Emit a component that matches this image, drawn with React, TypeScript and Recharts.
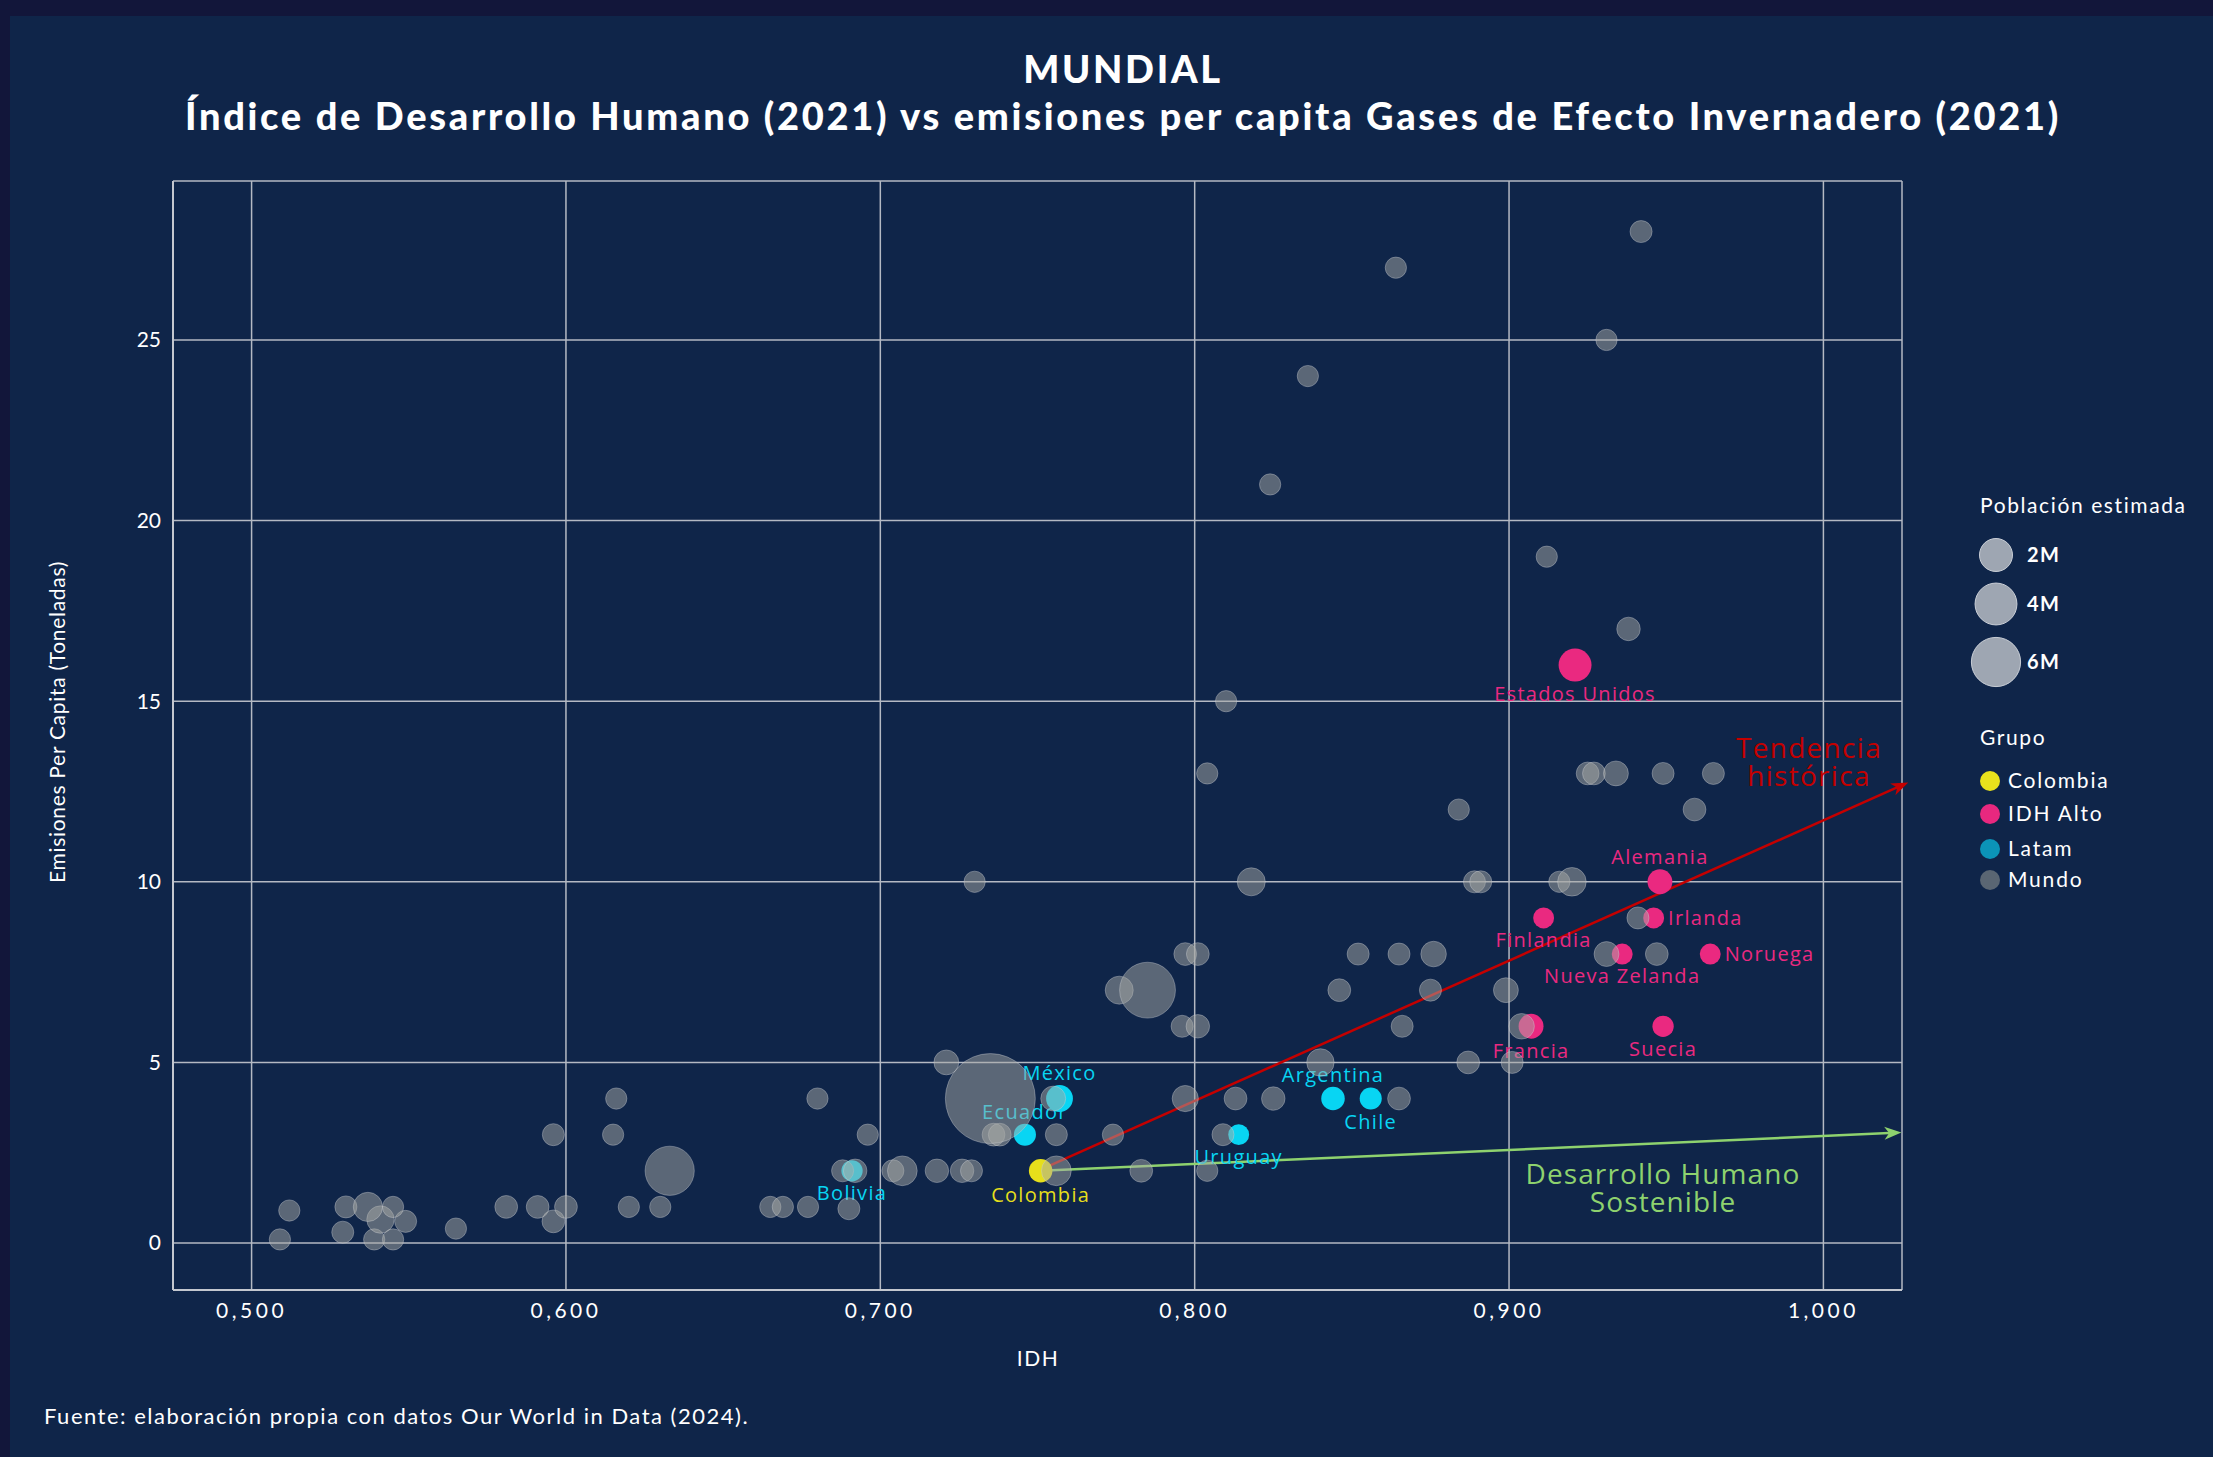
import React from "react";
import { ScatterChart, Scatter, XAxis, YAxis, ZAxis, CartesianGrid, ReferenceLine } from "recharts";

const W = 2213;
const H = 1457;
const FONT = "Lato, 'Noto Sans', sans-serif";
const LABEL_FONT = "'Open Sans', Lato, sans-serif";

const idhTicks = [0.5, 0.6, 0.7, 0.8, 0.9, 1.0];
const emisTicks = [0, 5, 10, 15, 20, 25];

// [nombre, IDH, emisiones per capita (t), poblacion (escala de la leyenda, M)]
const colombiaPts: [string, number, number, number][] = [["Colombia", 0.751, 2, 0.4]];

const idhAltoPts: [string, number, number, number][] = [
  ["Estados Unidos", 0.921, 16, 2.0],
  ["Alemania", 0.948, 10, 0.6],
  ["Finlandia", 0.911, 9, 0.05],
  ["Irlanda", 0.946, 9, 0.05],
  ["Nueva Zelanda", 0.936, 8, 0.05],
  ["Noruega", 0.964, 8, 0.05],
  ["Francia", 0.907, 6, 0.6],
  ["Suecia", 0.949, 6, 0.1],
];

const latamPts: [string, number, number, number][] = [
  ["México", 0.757, 4, 0.9],
  ["Ecuador", 0.746, 3, 0.2],
  ["Bolivia", 0.691, 2, 0.1],
  ["Argentina", 0.844, 4, 0.4],
  ["Chile", 0.856, 4, 0.2],
  ["Uruguay", 0.814, 3, 0.05],
];

// [IDH, emisiones, poblacion]
const mundoPts: [number, number, number][] = [
  [0.509, 0.1, 0.1], [0.529, 0.3, 0.2], [0.539, 0.1, 0.1], [0.545, 0.1, 0.1],
  [0.541, 0.65, 1.0], [0.549, 0.6, 0.2], [0.565, 0.4, 0.1], [0.596, 0.6, 0.3],
  [0.512, 0.9, 0.1], [0.530, 1, 0.2], [0.537, 1, 1.3], [0.545, 1, 0.1],
  [0.581, 1, 0.3], [0.591, 1, 0.3], [0.600, 1, 0.3], [0.620, 1, 0.1],
  [0.630, 1, 0.1], [0.665, 1, 0.1], [0.669, 1, 0.1], [0.677, 1, 0.1], [0.690, 0.95, 0.2],
  [0.633, 2, 6], [0.688, 2, 0.2], [0.692, 2, 0.4], [0.704, 2, 0.2], [0.707, 2, 1.4],
  [0.718, 2, 0.4], [0.726, 2, 0.4], [0.729, 2, 0.2], [0.756, 2, 1.4], [0.783, 2, 0.3], [0.804, 2, 0.1],
  [0.596, 3, 0.2], [0.615, 3, 0.1], [0.696, 3, 0.1], [0.736, 3, 0.3], [0.738, 3, 0.3],
  [0.756, 3, 0.2], [0.774, 3, 0.1], [0.809, 3, 0.2],
  [0.616, 4, 0.1], [0.680, 4, 0.1], [0.735, 4, 23], [0.755, 4, 0.6], [0.797, 4, 0.8],
  [0.813, 4, 0.3], [0.825, 4, 0.4], [0.865, 4, 0.3],
  [0.721, 5, 0.6], [0.840, 5, 1.0], [0.887, 5, 0.3], [0.901, 5, 0.2],
  [0.796, 6, 0.2], [0.801, 6, 0.4], [0.866, 6, 0.2], [0.904, 6, 0.7],
  [0.776, 7, 1.1], [0.785, 7, 8.1], [0.846, 7, 0.3], [0.875, 7, 0.2], [0.899, 7, 0.6],
  [0.797, 8, 0.3], [0.801, 8, 0.3], [0.852, 8, 0.2], [0.865, 8, 0.2], [0.876, 8, 0.7],
  [0.931, 8, 0.6], [0.947, 8, 0.3],
  [0.941, 9, 0.2],
  [0.730, 10, 0.1], [0.818, 10, 1.1], [0.889, 10, 0.2], [0.891, 10, 0.2], [0.916, 10, 0.1], [0.920, 10, 1.2],
  [0.884, 12, 0.1], [0.959, 12, 0.3],
  [0.804, 13, 0.1], [0.925, 13, 0.3], [0.927, 13, 0.3], [0.934, 13, 0.6], [0.949, 13, 0.2], [0.965, 13, 0.2],
  [0.810, 15, 0.1], [0.938, 17, 0.4], [0.912, 19, 0.1], [0.824, 21, 0.1],
  [0.836, 24, 0.1], [0.931, 25, 0.1], [0.864, 27, 0.1], [0.942, 28, 0.2],
];

// flechas: [inicio, fin] en coordenadas (IDH, emisiones)
const tendenciaSeg = [{ x: 0.751, y: 2.03 }, { x: 1.027, y: 12.75 }];
const sostenibleSeg = [{ x: 0.751, y: 2.0 }, { x: 1.0248, y: 3.06 }];

const sizeLegend = [2, 4, 6];

const COLORS = {
  colombia: "#e6df1b",
  idhAlto: "#ea2980",
  latam: "#08d5f3",
  mundo: "#a7aaa6",
  red: "#c40000",
  green: "#8ed26e",
  grid: "#b4b9c3",
};

const groupLegend = [
  { label: "Colombia", color: "#e8e21c" },
  { label: "IDH Alto", color: "#e8287f" },
  { label: "Latam", color: "#0b94b8" },
  { label: "Mundo", color: "#5a6673" },
];

const labelPlace: Record<string, "above" | "below" | "right"> = {
  "Estados Unidos": "below",
  Alemania: "above",
  Finlandia: "below",
  Irlanda: "right",
  "Nueva Zelanda": "below",
  Noruega: "right",
  Francia: "below",
  Suecia: "below",
  México: "above",
  Ecuador: "above",
  Bolivia: "below",
  Argentina: "above",
  Chile: "below",
  Uruguay: "below",
  Colombia: "below",
};

const toNamed = (arr: [string, number, number, number][]) =>
  arr.map(([name, idh, emis, pob]) => ({ name, idh, emis, pob }));

const colombiaData = toNamed(colombiaPts);
const idhAltoData = toNamed(idhAltoPts);
const latamData = toNamed(latamPts);
const mundoData = mundoPts.map(([idh, emis, pob]) => ({ idh, emis, pob }));

const radiusOf = (p: any) => {
  if (typeof p.size === "number" && p.size > 0) return Math.sqrt(p.size / Math.PI);
  return (p.width || 20) / 2;
};

const labeledDot = (color: string) => (p: any) => {
  const r = radiusOf(p);
  const name = p.payload?.name ?? "";
  const place = labelPlace[name] || "below";
  let tx = p.cx;
  let ty = p.cy + r + 19;
  let anchor: "middle" | "start" = "middle";
  if (place === "above") ty = p.cy - r - 5;
  if (place === "right") {
    tx = p.cx + r + 4;
    ty = p.cy + 7;
    anchor = "start";
  }
  return (
    <g>
      <circle cx={p.cx} cy={p.cy} r={r} fill={color} />
      <text
        x={tx}
        y={ty}
        textAnchor={anchor}
        fill={color}
        fontSize={20}
        fontFamily={LABEL_FONT}
        letterSpacing={1.3}
      >
        {name}
      </text>
    </g>
  );
};

const mundoDot = (p: any) => (
  <circle
    cx={p.cx}
    cy={p.cy}
    r={radiusOf(p)}
    fill={COLORS.mundo}
    fillOpacity={0.5}
    stroke="#d4d8dc"
    strokeOpacity={0.35}
    strokeWidth={1}
  />
);

const arrowShape = (color: string, width: number) => (p: any) => {
  const { x1, y1, x2, y2 } = p;
  const a = Math.atan2(y2 - y1, x2 - x1);
  const c = Math.cos(a);
  const s = Math.sin(a);
  const L = 17;
  const hw = 6.5;
  const bx = x2 - L * c;
  const by = y2 - L * s;
  const nx = x2 - 0.72 * L * c;
  const ny = y2 - 0.72 * L * s;
  const d = `M${x2},${y2} L${bx - s * hw},${by + c * hw} L${nx},${ny} L${bx + s * hw},${by - c * hw} Z`;
  return (
    <g>
      <line x1={x1} y1={y1} x2={nx} y2={ny} stroke={color} strokeWidth={width} />
      <path d={d} fill={color} />
    </g>
  );
};

const fmtIdh = (v: number) => v.toFixed(3).replace(".", ",");
const legendR = (p: number) => Math.sqrt((330 + 262 * p) / Math.PI);

export default function App() {
  return (
    <div
      style={{
        position: "absolute",
        left: 0,
        top: 0,
        width: W,
        height: H,
        background: "#12163a",
        overflow: "hidden",
        fontFamily: FONT,
      }}
    >
      <div style={{ position: "absolute", left: 10, top: 16, right: 0, bottom: 0, background: "#0f2549" }} />
      <div style={{ position: "absolute", left: 0, top: 0 }}>
        <ScatterChart width={W} height={H} margin={{ top: 181, right: 311, bottom: 127, left: 113 }}>
          <CartesianGrid stroke={COLORS.grid} strokeWidth={1.5} />
          <XAxis
            type="number"
            dataKey="idh"
            domain={[0.475, 1.025]}
            ticks={idhTicks}
            allowDataOverflow
            height={40}
            tickLine={false}
            tickMargin={7}
            tickFormatter={fmtIdh}
            axisLine={{ stroke: "#c3c7cf", strokeWidth: 2 }}
            tick={{ fill: "#ffffff", fontSize: 21, fontFamily: FONT, letterSpacing: 3.5 }}
          />
          <YAxis
            type="number"
            dataKey="emis"
            domain={[-1.3, 29.4]}
            ticks={emisTicks}
            allowDataOverflow
            width={60}
            tickLine={false}
            tickMargin={6}
            axisLine={{ stroke: "#c3c7cf", strokeWidth: 2 }}
            tick={{ fill: "#ffffff", fontSize: 21, fontFamily: FONT }}
          />
          <ZAxis type="number" dataKey="pob" domain={[0, 40]} range={[330, 10810]} />
          <Scatter name="Colombia" data={colombiaData} shape={labeledDot(COLORS.colombia)} isAnimationActive={false} />
          <Scatter name="IDH Alto" data={idhAltoData} shape={labeledDot(COLORS.idhAlto)} isAnimationActive={false} />
          <Scatter name="Latam" data={latamData} shape={labeledDot(COLORS.latam)} isAnimationActive={false} />
          <Scatter name="Mundo" data={mundoData} shape={mundoDot} isAnimationActive={false} />
          <ReferenceLine segment={tendenciaSeg} ifOverflow="visible" shape={arrowShape(COLORS.red, 2.5)} />
          <ReferenceLine segment={sostenibleSeg} ifOverflow="visible" shape={arrowShape(COLORS.green, 2.5)} />
        </ScatterChart>
      </div>
      <svg
        width={W}
        height={H}
        style={{ position: "absolute", left: 0, top: 0, pointerEvents: "none" }}
        fontFamily={FONT}
      >
        <text x={1123} y={83} textAnchor="middle" fill="#fff" fontSize={38} fontWeight={900} letterSpacing={2.7}>
          MUNDIAL
        </text>
        <text x={1123} y={130} textAnchor="middle" fill="#fff" fontSize={38} fontWeight={900} letterSpacing={2.7}>
          Índice de Desarrollo Humano (2021) vs emisiones per capita Gases de Efecto Invernadero (2021)
        </text>
        <text
          transform="translate(65,722) rotate(-90)"
          textAnchor="middle"
          fill="#fff"
          fontSize={21}
          letterSpacing={0.7}
        >
          Emisiones Per Capita (Toneladas)
        </text>
        <text x={1038} y={1366} textAnchor="middle" fill="#fff" fontSize={21} letterSpacing={1.5}>
          IDH
        </text>
        <text x={44} y={1424} fill="#fff" fontSize={22} letterSpacing={1.5}>
          Fuente: elaboración propia con datos Our World in Data (2024).
        </text>

        <text textAnchor="middle" fill={COLORS.red} fontSize={28} fontFamily={LABEL_FONT} letterSpacing={1.3}>
          <tspan x={1809} y={758}>Tendencia</tspan>
          <tspan x={1809} y={786}>histórica</tspan>
        </text>
        <text textAnchor="middle" fill={COLORS.green} fontSize={28} fontFamily={LABEL_FONT} letterSpacing={1.1}>
          <tspan x={1663} y={1184}>Desarrollo Humano</tspan>
          <tspan x={1663} y={1212}>Sostenible</tspan>
        </text>

        <text x={1980} y={513} fill="#fff" fontSize={21} letterSpacing={1.6}>
          Población estimada
        </text>
        {sizeLegend.map((p, i) => {
          const cy = [555, 604, 662][i];
          return (
            <g key={p}>
              <circle cx={1996} cy={cy} r={legendR(p)} fill="#9ea6b2" stroke="#c9ced6" strokeWidth={1} />
              <text x={2027} y={cy + 7} fill="#fff" fontSize={20} fontWeight={700} letterSpacing={1.5}>
                {p}M
              </text>
            </g>
          );
        })}
        <text x={1980} y={745} fill="#fff" fontSize={21} letterSpacing={1.6}>
          Grupo
        </text>
        {groupLegend.map((g, i) => {
          const cy = [781, 814, 849, 880][i];
          return (
            <g key={g.label}>
              <circle cx={1990} cy={cy} r={10} fill={g.color} />
              <text x={2008} y={cy + 7} fill="#fff" fontSize={21} letterSpacing={1.8}>
                {g.label}
              </text>
            </g>
          );
        })}
      </svg>
    </div>
  );
}
